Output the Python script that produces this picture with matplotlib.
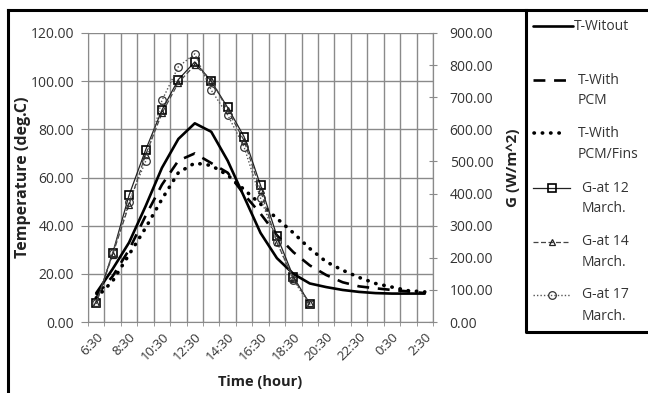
import matplotlib
matplotlib.use("Agg")
import matplotlib.pyplot as plt
from matplotlib.lines import Line2D
import numpy as np

plt.rcParams['font.family'] = ['Open Sans', 'DejaVu Sans']

times = ["6:30", "7:30", "8:30", "9:30", "10:30", "11:30", "12:30", "13:30", "14:30",
         "15:30", "16:30", "17:30", "18:30", "19:30", "20:30", "21:30", "22:30",
         "23:30", "0:30", "1:30", "2:30"]

t_without = [12, 22, 33, 48, 64, 76, 82.5, 79, 67, 52, 37, 26.5, 20, 16, 14.5, 13.3,
             12.5, 12, 11.8, 11.8, 11.8]
t_pcm = [11, 19, 30, 44, 57, 67, 70, 66, 62, 53, 45, 36, 29, 23.5, 19.5, 16.5, 14.8,
         14, 13.3, 12.7, 12]
t_fins = [10, 17, 28, 39, 51, 62, 66, 65, 61, 55, 49, 43, 37, 30.5, 25, 21.5, 18.5,
          16, 14.5, 13, 12.5]

g_12 = [58, 214, 395, 535, 660, 755, 810, 750, 668, 577, 426, 268, 141, 56]
g_14 = [60, 210, 365, 520, 650, 745, 800, 755, 660, 565, 410, 248, 135, 58]
g_17 = [58, 215, 375, 500, 690, 795, 835, 722, 645, 545, 386, 250, 130, 55]

left_ticks = [0, 20, 40, 60, 80, 100, 120]
right_ticks = [0, 100, 200, 300, 400, 500, 600, 700, 800, 900]

W, H = 648, 393
fig = plt.figure(figsize=(W / 100, H / 100), dpi=100)
L, R, T, B = 88, 433, 33, 322
ax = fig.add_axes([L / W, 1 - B / H, (R - L) / W, (B - T) / H])
ax2 = ax.twinx()

txt = '#333333'
grid = '#8a8a8a'
x = np.arange(len(times))
xg = np.arange(len(g_12))

style_wo = dict(color='black', lw=1.9, solid_capstyle='round')
style_pcm = dict(color='black', lw=1.9, linestyle=(0, (4.5, 3.3)))
style_fins = dict(color='black', lw=2.6, linestyle=(0, (0.1, 2.2)), dash_capstyle='round')
style_g12 = dict(color='#222222', lw=0.9)
style_g14 = dict(color='#444444', lw=0.9, linestyle=(0, (4, 2)))
style_g17 = dict(color='#555555', lw=1.0, linestyle=(0, (1, 1.5)))
mk_g12 = dict(marker='s', ms=5.5, mfc='none', mec='black', mew=1.2)
mk_g14 = dict(marker='^', ms=4, mfc='none', mec='#222222', mew=0.9)
mk_g17 = dict(marker='o', ms=5.5, mfc='none', mec='#333333', mew=0.9)

ax.plot(x, t_without, zorder=3, **style_wo)
ax.plot(x, t_pcm, zorder=3, **style_pcm)
ax.plot(x, t_fins, zorder=3, **style_fins)

ax2.plot(xg, g_12, zorder=3, **style_g12, **mk_g12)
ax2.plot(xg, g_14, zorder=3, **style_g14, **mk_g14)
ax2.plot(xg, g_17, zorder=3, **style_g17, **mk_g17)

ax.set_xlim(-0.5, len(times) - 0.5)
ax.set_ylim(0, 120)
ax2.set_ylim(0, 900)
ax.set_yticks(left_ticks)
ax.set_yticklabels([f"{v:.2f}" for v in left_ticks])
ax2.set_yticks(right_ticks)
ax2.set_yticklabels([f"{v:.2f}" for v in right_ticks])

ax.set_xticks(x[::2])
ax.set_xticklabels(times[::2], rotation=45, ha='right', va='top',
                   rotation_mode='anchor')
ax.set_xticks(np.arange(-0.5, len(times), 1), minor=True)
ax.tick_params(axis='x', which='major', length=0, pad=6, labelsize=9.5, colors=txt)
ax.tick_params(axis='x', which='minor', length=6, color=grid, direction='inout')
ax.tick_params(axis='y', length=5, color=grid, pad=5, labelsize=10, colors=txt)
ax2.tick_params(axis='y', length=6, color=grid, pad=9, labelsize=10, colors=txt,
                direction='inout')

ax.grid(True, which='minor', axis='x', color=grid, lw=1)
ax.grid(True, which='major', axis='y', color=grid, lw=1)
ax.set_axisbelow(True)
for a in (ax, ax2):
    a.spines['top'].set_visible(False)
    for s in ('left', 'right', 'bottom'):
        a.spines[s].set_color(grid)
ax2.spines['left'].set_visible(False)
ax2.spines['bottom'].set_visible(False)


def fx(px):
    return px / W


def fy(py):
    return 1 - py / H


fig.text(fx(23), fy(177), "Temperature (deg.C)", fontweight='bold', fontsize=11.5,
         color='#222222', rotation=90, ha='center', va='center')
fig.text(fx(513), fy(168), "G (W/m^2)", fontweight='bold', fontsize=11,
         color='#222222', rotation=90, ha='center', va='center')
fig.text(fx(260), fy(382), "Time (hour)", fontweight='bold', fontsize=10.5,
         color='#222222', ha='center', va='center')

# outer chart borders
fig.add_artist(Line2D([fx(8), fx(650)], [fy(10), fy(10)], color='black', lw=2.2))
fig.add_artist(Line2D([fx(8), fx(8)], [fy(10), fy(400)], color='black', lw=2.2))
fig.add_artist(Line2D([fx(526), fx(526), fx(650)], [fy(10), fy(332), fy(332)],
                      color='black', lw=2.2))

# legend (drawn manually to match layout)
legend_items = [
    (26, ["T-Witout"], style_wo, None, 533, 573, 574),
    (80, ["T-With", "PCM"], style_pcm, None, 533, 566, 578),
    (133, ["T-With", "PCM/Fins"], style_fins, None, 534, 564, 578),
    (188, ["G-at 12", "March."], style_g12, mk_g12, 533, 570, 582),
    (242, ["G-at 14", "March."], style_g14, mk_g14, 533, 570, 582),
    (295, ["G-at 17", "March."], style_g17, mk_g17, 533, 570, 582),
]
for yc, lines, lstyle, mstyle, x0, x1, tx in legend_items:
    fig.add_artist(Line2D([fx(x0), fx(x1)], [fy(yc), fy(yc)], **lstyle))
    if mstyle:
        fig.add_artist(Line2D([fx((x0 + x1) / 2)], [fy(yc)], linestyle='none', **mstyle))
    for k, s in enumerate(lines):
        fig.text(fx(tx), fy(yc + 21 * k), s, fontsize=10, color=txt,
                 ha='left', va='center')

fig.savefig("out.png", dpi=100)
